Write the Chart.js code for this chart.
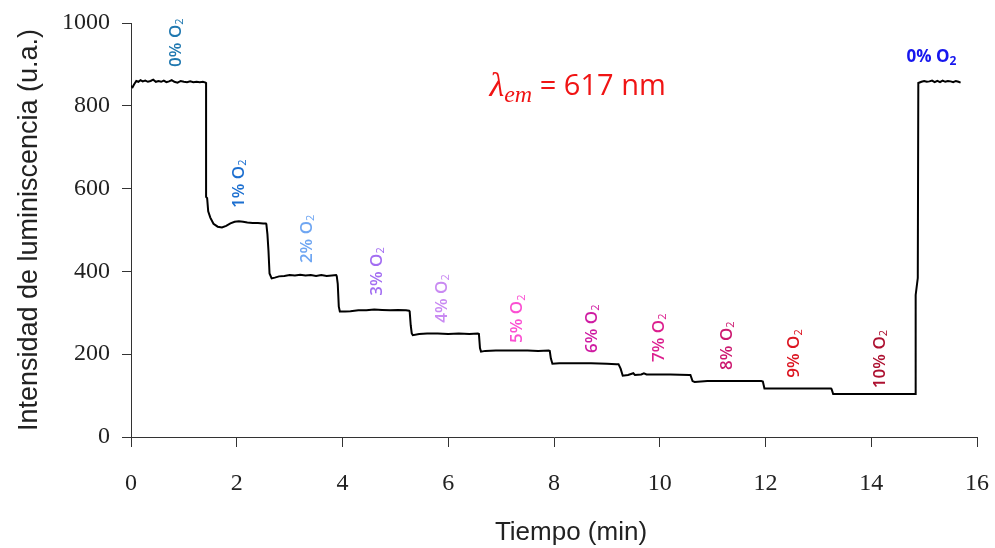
<!DOCTYPE html>
<html>
<head>
<meta charset="utf-8">
<script src="https://cdn.jsdelivr.net/npm/chart.js@4.4.1/dist/chart.umd.min.js"></script>
<style>
  html, body { margin: 0; padding: 0; background: #fff; }
  #caja { width: 995px; height: 548px; position: relative; }
</style>
</head>
<body>
<div id="caja"><canvas id="grafica_o2"></canvas></div>
<script>
// Trazo de la luminiscencia (tiempo en min, intensidad en u.a.)
const tiempo = [
  0.00, 0.03, 0.06, 0.10, 0.14, 0.18, 0.22, 0.27, 0.32, 0.37, 0.42, 0.47, 0.52, 0.57, 0.62, 0.67, 0.72, 0.77, 0.82, 0.88, 0.94, 1.00, 1.06, 1.12, 1.18, 1.24, 1.30, 1.36, 1.41,
  1.42, 1.42, 1.44, 1.46, 1.50, 1.56, 1.64, 1.72, 1.80, 1.88, 1.96, 2.04, 2.12, 2.20, 2.30, 2.40, 2.50, 2.55,
  2.56, 2.58, 2.60, 2.62, 2.66, 2.72, 2.80, 2.90, 3.00, 3.10, 3.20, 3.30, 3.40, 3.50, 3.60, 3.70, 3.80, 3.88,
  3.89, 3.91, 3.93, 3.95, 4.05, 4.15, 4.30, 4.45, 4.60, 4.75, 4.90, 5.05, 5.20, 5.26,
  5.27, 5.29, 5.31, 5.33, 5.45, 5.60, 5.80, 6.00, 6.20, 6.40, 6.56,
  6.58, 6.60, 6.62, 6.70, 6.90, 7.10, 7.30, 7.50, 7.70, 7.90,
  7.92, 7.94, 7.97, 8.10, 8.40, 8.70, 9.00, 9.18,
  9.22, 9.26, 9.30, 9.40, 9.50, 9.53, 9.65, 9.70, 9.75, 9.90, 10.20, 10.56,
  10.58, 10.62, 10.66, 10.90, 11.30, 11.70, 11.92,
  11.95, 11.98, 12.30, 12.80, 13.24,
  13.25, 13.28, 13.80, 14.30, 14.83,
  14.84, 14.84, 14.88, 14.89, 14.95, 15.00, 15.05, 15.10, 15.15, 15.20, 15.25, 15.30, 15.35, 15.40, 15.45, 15.50, 15.55, 15.60, 15.65, 15.69
];
const intensidad = [
  848, 845, 852, 860, 858, 862, 859, 861, 858, 860, 863, 858, 860, 858, 861, 857, 859, 862, 858, 856, 860, 858, 857, 859, 857, 858, 857, 858, 856,
  855, 580, 577, 545, 530, 515, 508, 506, 510, 516, 520, 521, 520, 518, 517, 517, 516, 516,
  514, 490, 450, 395, 383, 385, 388, 389, 391, 390, 392, 390, 391, 389, 391, 389, 390, 391,
  390, 370, 315, 303, 303, 304, 306, 306, 308, 307, 306, 307, 306, 305,
  304, 270, 250, 246, 249, 250, 250, 249, 250, 249, 250,
  249, 215, 206, 208, 209, 209, 209, 209, 208, 209,
  208, 190, 177, 178, 178, 178, 177, 176,
  176, 165, 148, 150, 154, 150, 151, 154, 151, 151, 151, 150,
  150, 135, 133, 135, 135, 135, 135,
  134, 117, 117, 117, 117,
  116, 104, 104, 104, 104,
  104, 343, 384, 855, 858, 860, 858, 859, 861, 857, 860, 857, 861, 858, 860, 859, 857, 860, 858, 856
];

// Etiquetas de % de O2
const etiquetas = ['0% O', '1% O', '2% O', '3% O', '4% O', '5% O', '6% O', '7% O', '8% O', '9% O', '10% O', '0% O'];
const etiq_t = [0.85, 2.04, 3.33, 4.65, 5.88, 7.31, 8.72, 9.98, 11.27, 12.55, 14.16, 15.14];
const etiq_v = [894, 553, 420, 341, 276, 227, 203, 181, 162, 143, 118, 918];
const etiq_color = ['#1f78b0', '#1c6fd0', '#6fa6f2', '#a36ef2', '#c98af2', '#fb4fd2', '#cf1ca2', '#dc1f8e', '#cc1970', '#dc1420', '#ad1030', '#1616ee'];

const marcas_x = [0, 2, 4, 6, 8, 10, 12, 14, 16];
const marcas_y = [0, 200, 400, 600, 800, 1000];

const puntos = tiempo.map((t, i) => ({ x: t, y: intensidad[i] }));

const plugin_textos = {
  id: 'textos',
  afterDraw(chart) {
    const ctx = chart.ctx;
    const ex = chart.scales.x, ey = chart.scales.y;
    ctx.save();
    for (let i = 0; i < etiquetas.length; i++) {
      const px = ex.getPixelForValue(etiq_t[i]);
      const py = ey.getPixelForValue(etiq_v[i]);
      const vertical = i < etiquetas.length - 1;
      ctx.save();
      ctx.fillStyle = etiq_color[i];
      ctx.textBaseline = 'middle';
      ctx.font = (vertical ? '600 ' : 'bold ') + '17px "Open Sans"';
      const w = ctx.measureText(etiquetas[i]).width;
      const w2 = 7;
      if (vertical) {
        ctx.translate(px, py);
        ctx.rotate(-Math.PI / 2);
        ctx.textAlign = 'left';
        ctx.fillText(etiquetas[i], 0, 0);
        ctx.font = '400 11px "Open Sans"';
        ctx.fillText('2', w, 4);
      } else {
        ctx.textAlign = 'left';
        const x0 = px - (w + w2) / 2;
        ctx.fillText(etiquetas[i], x0, py);
        ctx.font = 'bold 12px "Open Sans"';
        ctx.fillText('2', x0 + w, py + 5);
      }
      ctx.restore();
    }

    // lambda de emisión
    const lx = ex.getPixelForValue(6.78), ly = ey.getPixelForValue(845);
    ctx.fillStyle = '#f01414';
    ctx.textBaseline = 'middle';
    ctx.textAlign = 'left';
    ctx.font = 'italic 34px "Liberation Serif"';
    ctx.fillText('λ', lx, ly);
    let x = lx + ctx.measureText('λ').width;
    ctx.font = 'italic 24px "Liberation Serif"';
    ctx.fillText('em', x, ly + 9);
    x += ctx.measureText('em').width;
    ctx.font = '29px "Open Sans"';
    ctx.fillText(' = 617 nm', x, ly);

    // título del eje x
    ctx.fillStyle = '#222';
    ctx.textAlign = 'center';
    ctx.font = '26px "Liberation Sans"';
    ctx.fillText('Tiempo (min)', (ex.left + ex.right) / 2 + 17, chart.height - 15);
    ctx.restore();
  }
};

new Chart(document.getElementById('grafica_o2'), {
  type: 'line',
  data: {
    datasets: [{
      label: 'Intensidad',
      data: puntos,
      borderColor: '#000',
      borderWidth: 2,
      pointRadius: 0,
      tension: 0,
      fill: false
    }]
  },
  options: {
    responsive: true,
    maintainAspectRatio: false,
    animation: false,
    layout: { padding: { top: 23, right: 18, left: 0, bottom: 0 } },
    plugins: {
      legend: { display: false },
      tooltip: { enabled: false }
    },
    scales: {
      x: {
        type: 'linear',
        min: 0,
        max: 16,
        afterFit: (s) => { s.height = 111; s.paddingLeft = 0; s.paddingRight = 0; },
        afterBuildTicks: (s) => { s.ticks = marcas_x.map(v => ({ value: v })); },
        grid: { drawOnChartArea: false, drawTicks: true, tickLength: 10, color: '#333' },
        border: { color: '#333', width: 1 },
        ticks: { color: '#222', font: { family: 'Liberation Serif', size: 24 }, padding: 22, maxRotation: 0, callback: (v) => String(v) },
        title: { display: false }
      },
      y: {
        min: 0,
        max: 1000,
        afterFit: (s) => { s.width = 131; s.paddingTop = 0; s.paddingBottom = 0; },
        afterBuildTicks: (s) => { s.ticks = marcas_y.map(v => ({ value: v })); },
        grid: { drawOnChartArea: false, drawTicks: true, tickLength: 9, color: '#333' },
        border: { color: '#333', width: 1 },
        ticks: { color: '#222', font: { family: 'Liberation Serif', size: 24 }, padding: 12, callback: (v) => String(v) },
        title: {
          display: true,
          text: 'Intensidad de luminiscencia (u.a.)',
          color: '#222',
          font: { family: 'Liberation Sans', size: 27 },
          padding: { top: 13, bottom: 0 }
        }
      }
    }
  },
  plugins: [plugin_textos]
});
</script>
</body>
</html>
